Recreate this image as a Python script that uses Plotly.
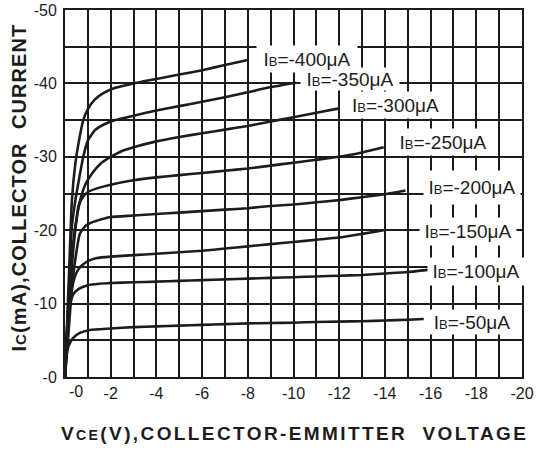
import plotly.graph_objects as go

# ---- data ----
ib_labels = ["-400", "-350", "-300", "-250", "-200", "-150", "-100", "-50"]

vce_400 = [0, -0.1, -0.2, -0.3, -0.45, -0.6, -0.8, -1.0, -1.3, -1.7, -2.2, -3.0, -4.0, -5.0, -6.0, -7.0, -8.0]
ic_400 = [0, -8, -16, -24, -29, -32, -35, -36.5, -37.8, -38.7, -39.4, -40.0, -40.6, -41.2, -41.8, -42.5, -43.2]

vce_350 = [0, -0.1, -0.2, -0.3, -0.45, -0.6, -0.8, -1.0, -1.3, -1.7, -2.2, -3, -4, -5, -6, -7, -8, -9, -10.1]
ic_350 = [0, -7, -14, -20.5, -24, -26.7, -30, -32.2, -33.6, -34.4, -35.0, -35.6, -36.3, -36.9, -37.5, -38.1, -38.8, -39.5, -40.1]

vce_300 = [0, -0.1, -0.2, -0.35, -0.5, -0.7, -0.9, -1.2, -1.6, -2.0, -2.5, -3, -4, -5, -6, -7, -8, -9, -10, -11, -12]
ic_300 = [0, -6, -12, -18, -21.5, -24.5, -26.3, -27.8, -29.2, -30.0, -30.8, -31.3, -32.1, -32.7, -33.2, -33.7, -34.2, -34.8, -35.4, -36.0, -36.6]

vce_250 = [0, -0.1, -0.2, -0.3, -0.45, -0.6, -0.8, -1.0, -1.4, -2, -3, -4, -5, -6, -7, -8, -9, -10, -11, -12, -13, -13.95]
ic_250 = [0, -5, -10, -15, -20, -23.4, -24.6, -25.2, -25.7, -26.2, -26.8, -27.2, -27.5, -27.8, -28.1, -28.4, -28.8, -29.2, -29.6, -30.0, -30.6, -31.3]

vce_200 = [0, -0.1, -0.2, -0.3, -0.45, -0.65, -0.9, -1.2, -1.6, -2, -3, -4, -5, -6, -7, -8, -9, -10, -11, -12, -13, -14, -14.9]
ic_200 = [0, -4, -8, -12, -16, -19.5, -20.6, -21.1, -21.5, -21.8, -22.0, -22.2, -22.4, -22.6, -22.8, -23.0, -23.3, -23.5, -23.8, -24.1, -24.5, -24.9, -25.4]

vce_150 = [0, -0.1, -0.2, -0.35, -0.5, -0.7, -1.0, -1.4, -2, -3, -4, -5, -6, -7, -8, -9, -10, -11, -12, -13, -13.95]
ic_150 = [0, -5, -9.5, -12.7, -14.2, -15.1, -15.8, -16.2, -16.4, -16.6, -16.8, -17.0, -17.2, -17.5, -17.8, -18.1, -18.4, -18.7, -19.0, -19.5, -20.0]

vce_100 = [0, -0.05, -0.1, -0.2, -0.35, -0.6, -1.0, -1.5, -2, -3, -4, -5, -6, -7, -8, -9, -10, -11, -12, -13, -14, -15, -15.9]
ic_100 = [0, -4, -7, -9.5, -11.2, -12.0, -12.5, -12.7, -12.8, -12.9, -13.0, -13.1, -13.2, -13.3, -13.4, -13.5, -13.6, -13.7, -13.8, -13.9, -14.1, -14.3, -14.6]

vce_50 = [0, -0.03, -0.08, -0.15, -0.35, -0.65, -1.1, -2, -3, -4, -5, -6, -7, -8, -9, -10, -11, -12, -13, -14, -15, -15.7]
ic_50 = [0, -2, -3.2, -4.2, -5.3, -6.0, -6.4, -6.6, -6.8, -6.9, -7.0, -7.1, -7.2, -7.3, -7.35, -7.4, -7.5, -7.55, -7.6, -7.7, -7.8, -7.9]

x_tick_vals = list(range(0, -21, -1))
x_tick_text = ["" if (v == 0 or v % 2) else str(v) for v in x_tick_vals]
y_tick_vals = list(range(0, -51, -5))
y_tick_text = ["-0" if v == 0 else (str(v) if v % 10 == 0 else "") for v in y_tick_vals]

series = [
    (vce_400, ic_400), (vce_350, ic_350), (vce_300, ic_300), (vce_250, ic_250),
    (vce_200, ic_200), (vce_150, ic_150), (vce_100, ic_100), (vce_50, ic_50),
]

# label placement (layout, not data): left edge V, centre I, box width/height px
label_pos = [(-8.35, -43.3, 100, 26), (-10.3, -40.65, 98, 22), (-12.3, -37.0, 97, 26),
             (-14.4, -31.95, 96, 26), (-15.65, -25.8, 96, 33), (-15.5, -19.8, 96, 27),
             (-15.85, -14.4, 96, 27), (-15.95, -7.5, 84, 24)]

INK = "#1c1c1c"
FONT = "Arial, Liberation Sans, sans-serif"

fig = go.Figure()
for (vx, iy), lab in zip(series, ib_labels):
    fig.add_trace(go.Scatter(
        x=vx, y=iy, mode="lines", name="IB=" + lab + "µA",
        line=dict(color=INK, width=2.6, shape="spline", smoothing=0.5),
        showlegend=False, hoverinfo="skip"))

# draw lower labels first so the upper boxes sit on top
for lab, (lx, ly, w, h) in reversed(list(zip(ib_labels, label_pos))):
    fig.add_annotation(
        x=lx, y=ly, xref="x", yref="y", xanchor="left", yanchor="middle",
        text="I<span style='font-size:13px'>B</span>=" + lab + "\u03bcA",
        showarrow=False, bgcolor="white", width=w, height=h, borderpad=0,
        font=dict(family=FONT, size=19, color=INK))

# "-0" label on the x axis (offset to the right as in the original)
fig.add_annotation(x=-0.5, y=0, xref="x", yref="paper", yanchor="top", yshift=-4,
                   text="-0", showarrow=False,
                   font=dict(family=FONT, size=16, color=INK))

# axis titles
fig.add_annotation(
    x=-0.1, y=0.517, xref="paper", yref="paper", xanchor="center", yanchor="middle",
    textangle=-90, showarrow=False,
    text="<span style='letter-spacing:1.1px'>I<span style='font-size:15px'>C</span>(mA),COLLECTOR\u00a0\u00a0CURRENT</span>",
    font=dict(family=FONT, size=20, color=INK, weight="bold"))
fig.add_annotation(
    x=0.503, y=-0.153, xref="paper", yref="paper", xanchor="center", yanchor="middle",
    showarrow=False,
    text="<span style='letter-spacing:2.4px'>V<span style='font-size:14px'>CE</span>(V),COLLECTOR-EMMITTER\u00a0\u00a0VOLTAGE</span>",
    font=dict(family=FONT, size=19, color=INK, weight="bold"))

axis_common = dict(showgrid=True, gridcolor=INK, gridwidth=2, zeroline=False,
                   showline=True, mirror=True, linecolor=INK, linewidth=2,
                   ticks="", automargin=False, ticklabeloverflow="allow",
                   tickfont=dict(family=FONT, size=16, color=INK))

fig.update_xaxes(range=[0, -20], tickmode="array", tickvals=x_tick_vals,
                 ticktext=x_tick_text, ticklabelstandoff=1, **axis_common)
fig.update_yaxes(range=[0, -50], tickmode="array", tickvals=y_tick_vals,
                 ticktext=y_tick_text, ticklabelstandoff=3, **axis_common)

fig.update_layout(
    width=538, height=455,
    margin=dict(l=65, r=16, t=10, b=78, autoexpand=False),
    paper_bgcolor="white", plot_bgcolor="white",
    font=dict(family=FONT, color=INK),
    modebar=dict(bgcolor="rgba(0,0,0,0)", color="rgba(0,0,0,0)",
                 activecolor="rgba(0,0,0,0)"),
)

# remove the default page margin so the figure fills the window exactly
fig.write_html("out.html", config={"displayModeBar": False},
               post_script="document.body.style.margin='0px';")
